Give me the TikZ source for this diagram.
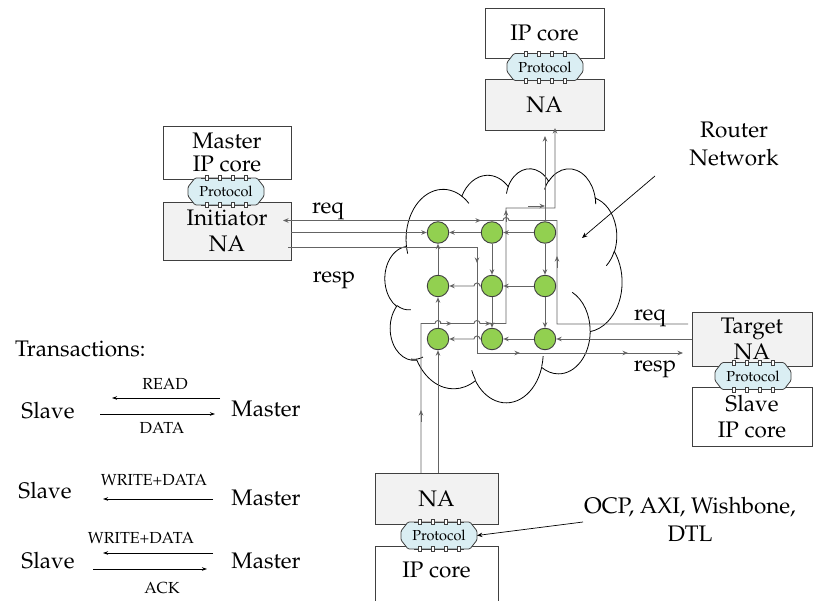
\documentclass[tikz,border=0pt]{standalone}
\usepackage[T1]{fontenc}
\renewcommand{\rmdefault}{ppl}
\usetikzlibrary{arrows.meta,calc}

\definecolor{nafill}{RGB}{242,242,242}
\definecolor{protofill}{RGB}{218,238,243}
\definecolor{routerfill}{RGB}{146,208,80}
\definecolor{wirecol}{RGB}{100,100,100}
\definecolor{edgecol}{RGB}{64,64,64}

\newcommand\mainfont{\fontsize{22.5}{26}\selectfont}
\newcommand\protofont{\fontsize{14.5}{16}\selectfont}
\newcommand\capfont{\fontsize{16}{18}\selectfont}

% scale of the cloud outline (pt per 100 shape units)
\def\cldsx{0.54861pt}
\def\cldsy{0.54167pt}

\tikzset{
  declare function={
    vang(\a,\w,\h)=atan2(\w*sin(\a),\h*cos(\a));
    dang(\a,\s,\w,\h)=\s+Mod(vang(\a+\s,\w,\h)-vang(\a,\w,\h)-\s+180,360)-180;
  },
  cseg/.style n args={4}{insert path={arc[start angle={-vang(#3,#1,#2)},
      delta angle={-dang(#3,#4,#1,#2)}, x radius={#1*\cldsx}, y radius={#2*\cldsy}]}},
  ipbox/.style={draw=edgecol, line width=0.9pt, fill=white, inner sep=0pt,
      font=\mainfont, align=center},
  nabox/.style={ipbox, fill=nafill},
  router/.style={circle, draw=edgecol, line width=0.9pt, fill=routerfill,
      minimum size=21.5pt, inner sep=0pt},
  link/.style={draw=wirecol, line width=0.95pt},
  protoline/.style={draw=edgecol, line width=0.8pt, fill=protofill, rounded corners=1.2pt},
  pinline/.style={draw=edgecol, line width=0.6pt},
  pinbox/.style={draw=edgecol, line width=0.5pt, fill=white},
  prototext/.style={font=\protofont, inner sep=0pt},
  cloudline/.style={draw=black, line width=0.8pt},
  pointer/.style={draw=black, line width=0.7pt, ->},
  txarrow/.style={draw=black, line width=0.8pt, -{Stealth[length=5pt,width=3.5pt]}},
  txt/.style={font=\mainfont, inner sep=0pt},
  captxt/.style={font=\capfont, inner sep=0pt},
}

% protocol adapter: chamfered plate with pins on both long edges
\newcommand\protocol[2]{%
  \coordinate (#1) at #2;
  \coordinate (#1-east) at ($(#1)+(38,0)$);
  \draw[protoline] ($(#1)+(-38,-4.5)$) -- ($(#1)+(-31,-13.5)$) -- ($(#1)+(31,-13.5)$)
    -- ($(#1)+(38,-4.5)$) -- ($(#1)+(38,4.5)$) -- ($(#1)+(31,13.5)$)
    -- ($(#1)+(-31,13.5)$) -- ($(#1)+(-38,4.5)$) -- cycle;
  \foreach \s in {-13.5,13.5}{
    \draw[pinline] ($(#1)+(-25,\s)$) -- ($(#1)+(25,\s)$);
    \foreach \p in {-19.5,-6.5,6.5,19.5}
      \draw[pinbox] ($(#1)+(\p-1.3,\s-2.4)$) rectangle ($(#1)+(\p+1.3,\s+2.4)$);
  }
  \node[prototext] (#1-label) at (#1) {Protocol};
}

\begin{document}
\begin{tikzpicture}[x=1pt, y=-1pt, >={Stealth[length=5.5pt,width=4.5pt]}]
\useasboundingbox (0,0) rectangle (814,601);

% ---------------- router network cloud ----------------
\begin{scope}[shift={(385,168)}, x=0.54861pt, y=-0.54167pt]
  \draw[cloudline] (39.00,143.70)
    [cseg={67.53}{91.90}{-190.487}{123.781}]
    [cseg={53.33}{72.67}{-144.102}{89.945}]
    [cseg={43.65}{59.45}{-145.808}{99.723}]
    [cseg={48.57}{65.95}{-130.986}{117.242}]
    [cseg={53.33}{72.73}{-78.709}{109.027}]
    [cseg={67.75}{92.20}{-46.267}{130.269}]
    [cseg={57.85}{78.67}{0.625}{114.033}]
    [cseg={67.52}{92.15}{22.452}{115.173}]
    [cseg={77.20}{105.43}{66.243}{75.711}]
    [cseg={43.60}{59.18}{-274.942}{146.736}]
    [cseg={43.45}{59.45}{-246.829}{152.519}] -- cycle;
  \draw[cloudline] (46.93,261.77) [cseg={43.45}{59.45}{86.742}{26.430}];
  \draw[cloudline] (69.28,348.99) [cseg={43.60}{59.18}{73.610}{21.648}];
  \draw[cloudline] (164.78,390.90) [cseg={67.52}{92.15}{137.624}{14.093}];
  \draw[cloudline] (288.27,347.51) [cseg={67.52}{92.15}{6.453}{15.999}];
  \draw[cloudline] (341.29,229.54) [cseg={57.85}{78.67}{-70.292}{70.917}];
  \draw[cloudline] (417.98,153.54) [cseg={53.33}{72.73}{30.318}{27.752}];
  \draw[cloudline] (383.24,54.26) [cseg={48.57}{65.95}{-13.744}{14.859}];
  \draw[cloudline] (290.78,39.52) [cseg={48.57}{65.95}{-149.181}{18.195}];
  \draw[cloudline] (221.41,47.20) [cseg={43.65}{59.45}{-163.494}{17.686}];
  \draw[cloudline] (140.00,51.92) [cseg={67.53}{91.90}{-66.707}{12.319}];
  \draw[cloudline] (41.27,157.89) [cseg={67.53}{91.90}{157.654}{11.858}];
\end{scope}

% ---------------- IP cores and network adapters ----------------
\node[ipbox, minimum width=119pt, minimum height=50pt] (topip) at (544.5,33) {IP core};
\node[nabox, minimum width=119pt, minimum height=51pt] (topna) at (544.5,104.5) {NA};

\node[ipbox, minimum width=128pt, minimum height=53pt, font=\fontsize{22.5}{23.5}\selectfont]
  (mip) at (227,152.5) {Master\\IP core};
\node[nabox, minimum width=128pt, minimum height=58pt] (ina) at (227,231) {Initiator\\NA};

\node[nabox, minimum width=120pt, minimum height=54pt] (gna) at (752,339) {Target\\NA};
\node[ipbox, minimum width=120pt, minimum height=59pt] (sip) at (752,416.5) {Slave\\IP core};

\node[nabox, minimum width=123pt, minimum height=51pt] (bna) at (436.5,498.5) {NA};
\node[ipbox, minimum width=123pt, minimum height=74pt, anchor=north] (bip) at (436.5,546) {};
\node[txt] (biptext) at (436.5,570) {IP core};

\protocol{ptop}{(545,67)}
\protocol{pmaster}{(226,191.5)}
\protocol{ptarget}{(753,376)}
\protocol{pbottom}{(439,535.5)}

% ---------------- routers ----------------
\node[router] (r11) at (438,232.5) {};
\node[router] (r12) at (492,232.5) {};
\node[router] (r13) at (545,232.5) {};
\node[router] (r21) at (438,286) {};
\node[router] (r22) at (492,286) {};
\node[router] (r23) at (545,286) {};
\node[router] (r31) at (438,339) {};
\node[router] (r32) at (492,339) {};
\node[router] (r33) at (545,339) {};

% links between routers
\draw[link,->] (r12) -- (r11);
\draw[link,->] (r13) -- (r12);
\draw[link,->] (r22.west) -- (480,286) arc[start angle=0, end angle=180, radius=3pt] -- (r21.east);
\draw[link,->] (r23) -- (r22);
\draw[link,->] (r32.west) -- (480,339) arc[start angle=0, end angle=180, radius=3pt] -- (r31.east);
\draw[link,->] (r33) -- (r32);
\draw[link,->] (r21) -- (r11);
\draw[link,->] (r31) -- (r21);
\draw[link,->] (r12) -- (r22);
\draw[link,->] (r22) -- (r32);
\draw[link,->] (r13) -- (r23);
\draw[link,->] (r23) -- (r33);

% adapter connections
\draw[link,->] (ina.east |- r11) -- (r11);
\draw[link,->] (gna.west |- r33) -- (r33);
\draw[link,->] (r31 |- bna.north) -- (r31);
\coordinate (topin) at (545,136);
\draw[link,->] (r13) -- (topin);

% request path back to the initiator
\coordinate (q1) at (688,324);
\coordinate (q2) at (557,324);
\coordinate (q3) at (557,220.5);
\coordinate (q4) at (283,220.5);
\draw[link,->] (q1) -- (q2) -- (q3) -- (509,220.5)
  arc[start angle=0, end angle=180, radius=3pt] -- (q4);
\draw[link,->] (557,268) -- (557,256);
\draw[link,->] (465,220.5) -- (481,220.5);

% response path to the target
\coordinate (s1) at (288,247);
\coordinate (s2) at (477,247);
\coordinate (s3) at (477,353);
\coordinate (s4) at (683,353);
\draw[link,->] (s1) -- (s2) -- (s3) -- (s4);
\draw[link,->] (477,250) -- (477,263);
\draw[link,->] (505,353) -- (520,353);
\draw[link,->] (612,353) -- (628,353);

% path from the lower adapter to the upper adapter
\coordinate (u1) at (421,473);
\coordinate (u2) at (421,323.5);
\coordinate (u3) at (506,323.5);
\coordinate (u4) at (506,208);
\coordinate (u5) at (555,208);
\coordinate (u6) at (555,128);
\draw[link,->] (u1) -- (u2) -- (435,323.5) arc[start angle=180, end angle=0, radius=3pt]
  -- (474,323.5) arc[start angle=180, end angle=0, radius=3pt] -- (u3) -- (u4) -- (u5) -- (u6);
\draw[link,->] (421,422) -- (421,410);
\draw[link,->] (440,323.5) -- (452,323.5);
\draw[link,->] (480,323.5) -- (491,323.5);
\draw[link,->] (506,222) -- (506,210);
\coordinate (w1) at (528,206);
\coordinate (w2) at (545,206);
\draw[link,->] (w1) -- (w2);

% ---------------- labels ----------------
\node[txt, anchor=base] (reqa) at (328,214) {req};
\node[txt, anchor=base] (respa) at (334,283) {resp};
\node[txt, anchor=base] (reqb) at (650,321) {req};
\node[txt, anchor=base] (respb) at (655,372) {resp};

\node[txt, align=center, font=\fontsize{22.5}{28}\selectfont] (rnet) at (734,143.5) {Router\\Network};
\coordinate (rnetfrom) at (655,176);
\coordinate (rnetto) at (582,238);
\draw[pointer] (rnetfrom) -- (rnetto);

\node[txt, align=center, font=\fontsize{22.5}{28}\selectfont] (ocp) at (690,519) {OCP, AXI, Wishbone,\\DTL};
\coordinate (ocpfrom) at (583,522);
\draw[pointer] (ocpfrom) -- (pbottom-east);

% ---------------- transaction types ----------------
\node[txt, anchor=base west] (trans) at (15,357) {Transactions:};

\node[captxt, anchor=base] (tread) at (165,390) {READ};
\node[txt, anchor=base] (slave1) at (48,418) {Slave};
\node[txt, anchor=base] (master1) at (266,417) {Master};
\node[captxt, anchor=base] (tdata) at (162,433) {DATA};
\coordinate (a1s) at (220,398); \coordinate (a1e) at (112,398);
\coordinate (a2s) at (100,414); \coordinate (a2e) at (215,414);
\draw[txarrow] (a1s) -- (a1e);
\draw[txarrow] (a2s) -- (a2e);

\node[captxt, anchor=base] (twrite1) at (154,485) {WRITE+DATA};
\node[txt, anchor=base] (slave2) at (45,498) {Slave};
\node[txt, anchor=base] (master2) at (266,505) {Master};
\coordinate (a3s) at (213,499); \coordinate (a3e) at (103,499);
\draw[txarrow] (a3s) -- (a3e);

\node[captxt, anchor=base] (twrite2) at (141,543) {WRITE+DATA};
\node[txt, anchor=base] (slave3) at (48,568) {Slave};
\node[txt, anchor=base] (master3) at (266,568) {Master};
\node[captxt, anchor=base] (tack) at (162,593) {ACK};
\coordinate (a4s) at (213,553); \coordinate (a4e) at (103,553);
\coordinate (a5s) at (93,569); \coordinate (a5e) at (207,569);
\draw[txarrow] (a4s) -- (a4e);
\draw[txarrow] (a5s) -- (a5e);

\end{tikzpicture}
\end{document}
